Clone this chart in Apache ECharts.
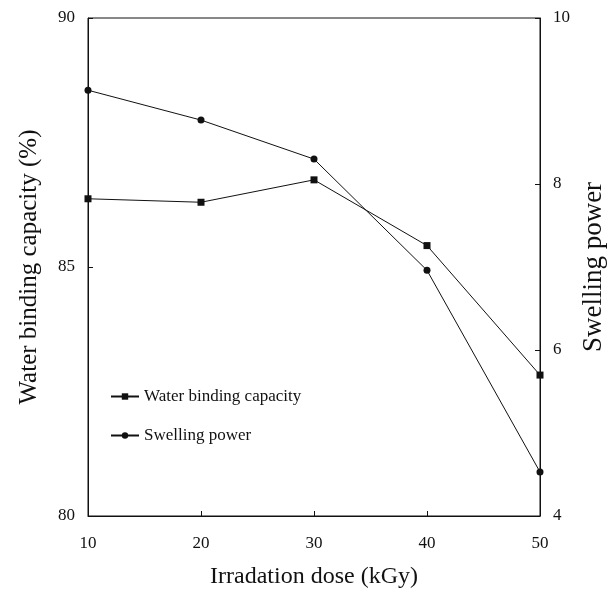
<!DOCTYPE html>
<html>
<head>
<meta charset="utf-8">
<script src="https://cdn.jsdelivr.net/npm/echarts@6/dist/echarts.min.js"></script>
<style>
  html, body { margin: 0; padding: 0; background: #fff; }
  #chart { width: 614px; height: 589px; }
</style>
</head>
<body>
<div id="chart"></div>
<script>
// irradiation dose (kGy)
const doses = [10, 20, 30, 40, 50];
// water binding capacity (%), left axis
const waterBinding = [86.37, 86.3, 86.75, 85.43, 82.83];
// swelling power, right axis
const swelling = [9.13, 8.77, 8.3, 6.96, 4.53];

const serif = "Liberation Serif";
const ink = "#111";

const chart = echarts.init(document.getElementById("chart"));

chart.setOption({
  backgroundColor: "#fff",
  animation: false,
  grid: {
    left: 88, right: 74, top: 18, bottom: 73,
    outerBoundsMode: "none",
    containLabel: false,
    show: true, borderColor: ink, borderWidth: 1
  },
  legend: {
    orient: "vertical",
    left: 105, top: 383,
    itemGap: 22,
    itemWidth: 28, itemHeight: 8,
    textStyle: { fontFamily: serif, fontSize: 17, color: ink },
    data: ["Water binding capacity", "Swelling power"]
  },
  xAxis: {
    type: "value",
    min: 10, max: 50, interval: 10,
    name: "Irradation dose (kGy)",
    nameLocation: "middle",
    nameGap: 49,
    nameTextStyle: { fontFamily: serif, fontSize: 24, color: ink },
    axisLine: { lineStyle: { color: ink } },
    axisTick: { inside: true, length: 5, lineStyle: { color: ink } },
    axisLabel: { fontFamily: serif, fontSize: 17, color: ink, margin: 19 },
    splitLine: { show: false }
  },
  yAxis: [
    {
      type: "value",
      min: 80, max: 90, interval: 5,
      name: "Water binding capacity (%)",
      nameLocation: "middle",
      nameGap: 46,
      nameTextStyle: { fontFamily: serif, fontSize: 25, color: ink },
      axisLine: { show: true, lineStyle: { color: ink } },
      axisTick: { inside: true, length: 5, lineStyle: { color: ink } },
      axisLabel: { fontFamily: serif, fontSize: 17, color: ink, margin: 13 },
      splitLine: { show: false }
    },
    {
      type: "value",
      position: "right",
      min: 4, max: 10, interval: 2,
      name: "Swelling power",
      nameLocation: "middle",
      nameRotate: 90,
      nameGap: 39,
      nameTextStyle: { fontFamily: serif, fontSize: 27, color: ink },
      axisLine: { show: true, lineStyle: { color: ink } },
      axisTick: { inside: true, length: 5, lineStyle: { color: ink } },
      axisLabel: { fontFamily: serif, fontSize: 17, color: ink, margin: 13 },
      splitLine: { show: false }
    }
  ],
  series: [
    {
      name: "Water binding capacity",
      type: "line",
      yAxisIndex: 0,
      data: doses.map((d, i) => [d, waterBinding[i]]),
      symbol: "rect",
      symbolSize: 7,
      lineStyle: { color: ink, width: 1 },
      itemStyle: { color: ink }
    },
    {
      name: "Swelling power",
      type: "line",
      yAxisIndex: 1,
      data: doses.map((d, i) => [d, swelling[i]]),
      symbol: "circle",
      symbolSize: 7,
      lineStyle: { color: ink, width: 1 },
      itemStyle: { color: ink }
    }
  ]
});
</script>
</body>
</html>
